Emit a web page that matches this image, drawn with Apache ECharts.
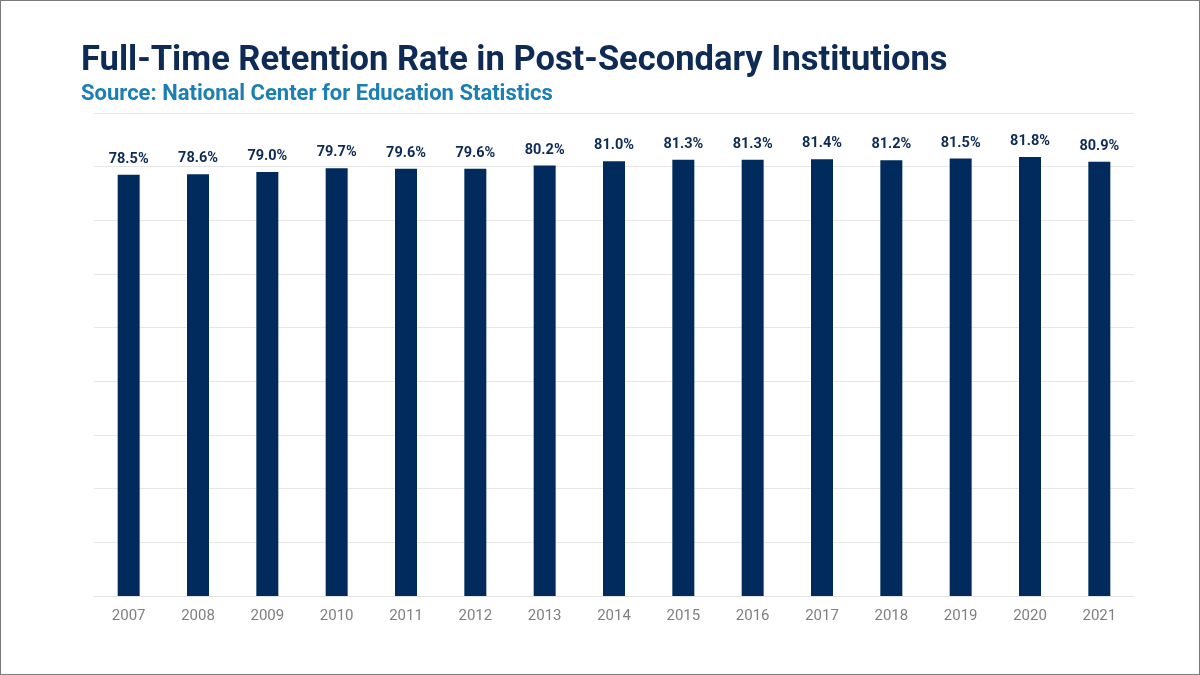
<!DOCTYPE html>
<html>
<head>
	<meta charset="utf-8">
	<title>Full-Time Retention Rate</title>
	<script src="https://cdn.jsdelivr.net/npm/echarts@6/dist/echarts.min.js"></script>
	<style>
	html, body {
		margin: 0;
		padding: 0;
		background: #fff;
	}
	#main {
		width: 1200px;
		height: 675px;
		box-sizing: border-box;
		border: 1px solid #7a7a7a;
	}
	</style>
</head>
<body>
<div id="main"></div>
<script>
	var years = ['2007', '2008', '2009', '2010', '2011', '2012', '2013', '2014',
		'2015', '2016', '2017', '2018', '2019', '2020', '2021'];
	var retention = [78.5, 78.6, 79.0, 79.7, 79.6, 79.6, 80.2, 81.0,
		81.3, 81.3, 81.4, 81.2, 81.5, 81.8, 80.9];

	var myChart = echarts.init(document.getElementById('main'));

	var option = {
		backgroundColor: '#fff',
		animation: false,
		title: {
			text: 'Full-Time Retention Rate in Post-Secondary Institutions',
			subtext: 'Source: National Center for Education Statistics',
			left: 75,
			top: 38,
			itemGap: 4,
			textStyle: {
				fontFamily: 'Roboto',
				fontWeight: 'bold',
				fontSize: 34.5,
				color: '#0d2b55'
			},
			subtextStyle: {
				fontFamily: 'Roboto',
				fontWeight: 'bold',
				fontSize: 22,
				color: '#1b7fb3'
			}
		},
		grid: {
			left: 93,
			right: 65,
			top: 112,
			bottom: 78
		},
		xAxis: {
			type: 'category',
			data: years,
			axisLine: { lineStyle: { color: '#e3e3e3' } },
			axisTick: { show: false },
			axisLabel: {
				color: '#7f7f7f',
				fontFamily: 'Roboto',
				fontSize: 15,
				margin: 13
			}
		},
		yAxis: {
			type: 'value',
			min: 0,
			max: 90,
			interval: 10,
			axisLabel: { show: false },
			axisLine: { show: false },
			axisTick: { show: false },
			splitLine: { lineStyle: { color: '#e6e6e6' } }
		},
		series: [{
			type: 'bar',
			data: retention,
			barWidth: 22,
			itemStyle: { color: '#002b5c' },
			label: {
				show: true,
				position: 'top',
				distance: 8,
				color: '#0d2b55',
				fontFamily: 'Roboto',
				fontWeight: 'bold',
				fontSize: 14.5,
				formatter: function (p) { return p.value.toFixed(1) + '%'; }
			}
		}]
	};
	myChart.setOption(option);
</script>
</body>
</html>
